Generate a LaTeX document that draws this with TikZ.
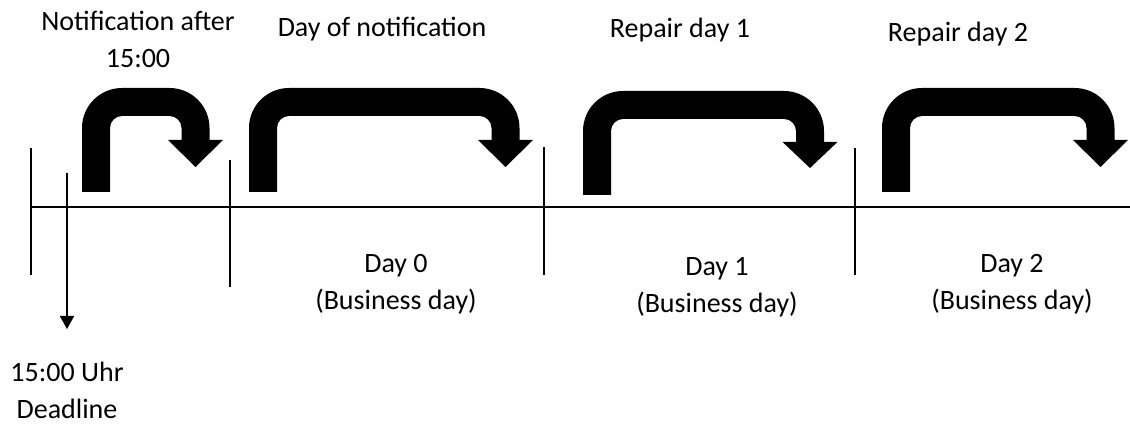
\documentclass[tikz,border=0pt]{standalone}
\usepackage{fontspec}
\setmainfont{Carlito}
\usetikzlibrary{arrows.meta}
% U-turn arrow: #1 stem left x, #2 stem bottom y, #3 top y, #4 head centre x, #5 head base y, #6 tip y (y measured downward)
\newcommand\uturnarrow[6]{%
  \fill[uarrow] (#1,425-#2) -- (#1,425-#3-40) arc[start angle=180,end angle=90,radius=40pt]
    -- (#4+14-40,425-#3) arc[start angle=90,end angle=0,radius=40pt]
    -- (#4+14,425-#5) -- (#4+27.5,425-#5) -- (#4,425-#6) -- (#4-27.5,425-#5) -- (#4-14,425-#5)
    -- (#4-14,425-#3-40) arc[start angle=0,end angle=90,radius=12pt]
    -- (#1+40,425-#3-28) arc[start angle=90,end angle=180,radius=12pt]
    -- (#1+28,425-#2) -- cycle;}
\tikzset{
  lbl/.style={font=\fontsize{28}{37}\selectfont, align=center, inner sep=0pt, anchor=base},
  tline/.style={line width=1.6pt, black},
  uarrow/.style={black},
  deadarrow/.style={line width=1.6pt, -{Triangle[width=14pt,length=13pt]}}
}
\begin{document}
\begin{tikzpicture}[x=1pt,y=1pt]
\useasboundingbox (0,0) rectangle (1130,425);
% timeline
\coordinate (tlL) at (31,218);
\coordinate (tlR) at (1130,218);
\draw[tline] (tlL) -- (tlR);
% ticks
\coordinate (t0a) at (31,425-148); \coordinate (t0b) at (31,425-275);
\coordinate (t1a) at (230,425-160); \coordinate (t1b) at (230,425-287);
\coordinate (t2a) at (544,425-147); \coordinate (t2b) at (544,425-275);
\coordinate (t3a) at (855,425-148); \coordinate (t3b) at (855,425-275);
\draw[tline] (t0a) -- (t0b);
\draw[tline] (t1a) -- (t1b);
\draw[tline] (t2a) -- (t2b);
\draw[tline] (t3a) -- (t3b);
% deadline arrow
\coordinate (dtop) at (67,425-173);
\coordinate (dtip) at (67,425-329);
\draw[deadarrow] (dtop) -- (dtip);
% U-turn arrows
\uturnarrow{82}{192}{88}{195.5}{140}{167}
\uturnarrow{249}{192}{88}{505.5}{140}{167}
\uturnarrow{583}{195}{91}{810}{142}{168}
\uturnarrow{882}{192}{88}{1100.5}{140}{167}
% labels (multi-line nodes: base = baseline of last line)
\node[lbl] (n1) at (138,425-68) {Notification after\\15:00};
\node[lbl] (n2) at (382,425-37) {Day of notification};
\node[lbl] (n3) at (680,425-38) {Repair day 1};
\node[lbl] (n4) at (958,425-42) {Repair day 2};
\node[lbl] (d0) at (396,425-310) {Day 0\\(Business day)};
\node[lbl] (d1) at (717,425-313) {Day 1\\(Business day)};
\node[lbl] (d2) at (1012,425-310) {Day 2\\(Business day)};
\node[lbl] (dl) at (67,425-419) {15:00 Uhr\\Deadline};
\end{tikzpicture}
\end{document}
